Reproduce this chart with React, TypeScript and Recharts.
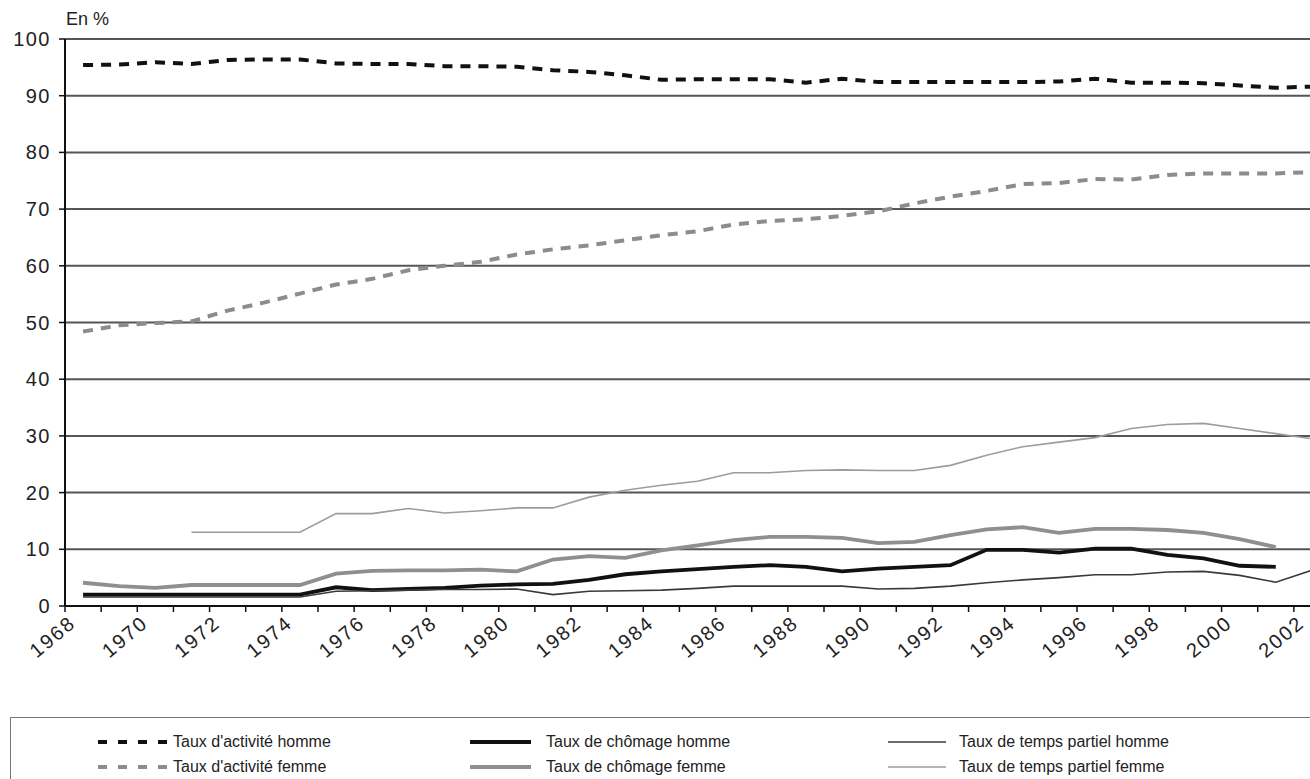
import { LineChart, Line, XAxis, YAxis, CartesianGrid } from "recharts";

const years = [
  1968, 1969, 1970, 1971, 1972, 1973, 1974, 1975, 1976, 1977, 1978, 1979,
  1980, 1981, 1982, 1983, 1984, 1985, 1986, 1987, 1988, 1989, 1990, 1991,
  1992, 1993, 1994, 1995, 1996, 1997, 1998, 1999, 2000, 2001, 2002,
];

const activiteHomme = [
  95.4, 95.5, 95.9, 95.6, 96.3, 96.4, 96.4, 95.7, 95.6, 95.6, 95.2, 95.2,
  95.1, 94.5, 94.2, 93.6, 92.8, 92.9, 92.9, 92.9, 92.3, 93.0, 92.4, 92.4,
  92.4, 92.4, 92.4, 92.5, 93.0, 92.3, 92.3, 92.2, 91.8, 91.4, 91.6,
];
const activiteFemme = [
  48.4, 49.5, 49.9, 50.2, 52.1, 53.5, 55.1, 56.7, 57.7, 59.2, 60.0, 60.7,
  62.0, 62.9, 63.6, 64.5, 65.4, 66.1, 67.3, 67.9, 68.2, 68.8, 69.6, 71.0,
  72.2, 73.2, 74.4, 74.6, 75.3, 75.2, 76.0, 76.3, 76.3, 76.3, 76.5,
];
const chomageHomme = [
  2.0, 2.0, 2.0, 2.0, 2.0, 2.0, 2.0, 3.3, 2.8, 3.0, 3.2, 3.6,
  3.8, 3.9, 4.6, 5.6, 6.1, 6.5, 6.9, 7.2, 6.9, 6.1, 6.6, 6.9,
  7.2, 9.9, 9.9, 9.4, 10.1, 10.1, 9.0, 8.4, 7.1, 6.9, null,
];
const chomageFemme = [
  4.1, 3.5, 3.2, 3.7, 3.7, 3.7, 3.7, 5.7, 6.2, 6.3, 6.3, 6.4,
  6.1, 8.2, 8.8, 8.5, 9.8, 10.7, 11.6, 12.2, 12.2, 12.0, 11.1, 11.3,
  12.5, 13.5, 13.9, 12.9, 13.6, 13.6, 13.4, 12.9, 11.8, 10.4, null,
];
const partielHomme = [
  1.6, 1.6, 1.6, 1.6, 1.6, 1.6, 1.6, 2.6, 2.7, 2.8, 2.9, 2.9,
  3.0, 2.0, 2.6, 2.7, 2.8, 3.1, 3.5, 3.5, 3.5, 3.5, 3.0, 3.1,
  3.5, 4.1, 4.6, 5.0, 5.5, 5.5, 6.0, 6.1, 5.4, 4.2, 6.3,
];
const partielFemme = [
  null, null, null, 13.0, 13.0, 13.0, 13.0, 16.3, 16.3, 17.2, 16.4, 16.8,
  17.3, 17.3, 19.2, 20.4, 21.3, 22.0, 23.5, 23.5, 23.9, 24.0, 23.9, 23.9,
  24.8, 26.6, 28.1, 28.9, 29.7, 31.3, 32.0, 32.2, 31.3, 30.4, 29.5,
];

const yTicks = [0, 10, 20, 30, 40, 50, 60, 70, 80, 90, 100];
// tick marks sit between years (Excel "between tick marks" category axis)
const boundaryTicks = [...years.map((y) => y - 0.5), 2002.5];

const data = years.map((year, i) => ({
  year,
  activiteHomme: activiteHomme[i],
  activiteFemme: activiteFemme[i],
  chomageHomme: chomageHomme[i],
  chomageFemme: chomageFemme[i],
  partielHomme: partielHomme[i],
  partielFemme: partielFemme[i],
}));

const series = [
  { key: "activiteHomme", name: "Taux d'activité homme", color: "#111", width: 4, dash: "10 8" },
  { key: "activiteFemme", name: "Taux d'activité femme", color: "#8c8c8c", width: 4, dash: "10 8" },
  { key: "chomageHomme", name: "Taux de chômage homme", color: "#111", width: 3.8, dash: undefined },
  { key: "chomageFemme", name: "Taux de chômage femme", color: "#8f8f8f", width: 3.8, dash: undefined },
  { key: "partielHomme", name: "Taux de temps partiel homme", color: "#3a3a3a", width: 1.6, dash: undefined },
  { key: "partielFemme", name: "Taux de temps partiel femme", color: "#9c9c9c", width: 1.6, dash: undefined },
];

const font = "'Liberation Sans', Arial, sans-serif";

const CHART_W = 1340;
const MARGIN_R = 10;
const Y_W = 65;
const TICK = 6;
const HALF_STEP = (CHART_W - MARGIN_R - Y_W) / years.length / 2;

function YearTick({ x, y, payload }: any) {
  const axisY = y - TICK;
  const year = payload.value + 0.5;
  const showLabel = year % 2 === 0 && year <= 2002;
  const ax = x + HALF_STEP - 6;
  const ay = y + 13;
  return (
    <g>
      <line x1={x} y1={axisY} x2={x} y2={axisY + TICK} stroke="#111" strokeWidth={1.5} />
      {showLabel && (
        <text
          x={ax}
          y={ay}
          transform={`rotate(-40 ${ax} ${ay})`}
          textAnchor="end"
          fontSize={20}
          letterSpacing={2}
          fill="#222"
          fontFamily={font}
        >
          {year}
        </text>
      )}
    </g>
  );
}

function ValueTick({ x, y, payload }: any) {
  const axisX = x + 8 + TICK;
  return (
    <g>
      <line x1={axisX - TICK} y1={y} x2={axisX} y2={y} stroke="#111" strokeWidth={1.5} />
      <text
        x={x}
        y={y}
        dy={7}
        textAnchor="end"
        fontSize={20}
        letterSpacing={1.5}
        fill="#222"
        fontFamily={font}
      >
        {payload.value}
      </text>
    </g>
  );
}

// legend: columns (symbol start, symbol end, text start), row centres
const legendCols = [
  [87, 158, 162],
  [459, 520, 535],
  [877, 935, 948],
];
const legendRows = [24, 49];

function LegendBox() {
  return (
    <div
      style={{
        position: "absolute",
        left: 10,
        top: 717,
        width: 1340,
        height: 80,
        border: "1.5px solid #777",
        boxSizing: "border-box",
        fontFamily: font,
        fontSize: 16,
        color: "#222",
      }}
    >
      {series.map((s, i) => {
        const col = legendCols[Math.floor(i / 2)];
        const rowY = legendRows[i % 2];
        return (
          <div key={s.key}>
            <svg
              style={{ position: "absolute", left: col[0], top: rowY - 5 }}
              width={col[1] - col[0]}
              height={10}
            >
              <line
                x1={0}
                y1={5}
                x2={col[1] - col[0]}
                y2={5}
                stroke={s.color}
                strokeWidth={s.dash ? 4 : s.width}
                strokeDasharray={s.dash ? "9 11" : undefined}
              />
            </svg>
            <span
              style={{
                position: "absolute",
                left: col[2],
                top: rowY - 10,
                lineHeight: "20px",
                whiteSpace: "nowrap",
              }}
            >
              {s.name}
            </span>
          </div>
        );
      })}
    </div>
  );
}

export default function App() {
  return (
    <div
      style={{
        position: "absolute",
        left: 0,
        top: 0,
        width: 1310,
        height: 779,
        overflow: "hidden",
        background: "#fff",
      }}
    >
      <div
        style={{
          position: "absolute",
          left: 66,
          top: 9,
          fontFamily: font,
          fontSize: 18,
          color: "#222",
        }}
      >
        En %
      </div>
      <LineChart
        width={CHART_W}
        height={700}
        data={data}
        margin={{ top: 39, right: MARGIN_R, bottom: 0, left: 0 }}
      >
        <CartesianGrid
          horizontal
          vertical={false}
          stroke="#555"
          strokeWidth={2}
        />
        <XAxis
          dataKey="year"
          type="number"
          domain={[1967.5, 2002.5]}
          ticks={boundaryTicks}
          interval={0}
          height={94}
          tickSize={TICK}
          tickMargin={0}
          axisLine={{ stroke: "#111", strokeWidth: 2 }}
          tickLine={false}
          tick={<YearTick />}
        />
        <YAxis
          type="number"
          domain={[0, 100]}
          ticks={yTicks}
          interval={0}
          width={Y_W}
          tickSize={TICK}
          tickMargin={8}
          axisLine={{ stroke: "#111", strokeWidth: 2 }}
          tickLine={false}
          tick={<ValueTick />}
        />
        {series.map((s) => (
          <Line
            key={s.key}
            type="linear"
            dataKey={s.key}
            stroke={s.color}
            strokeWidth={s.width}
            strokeDasharray={s.dash}
            dot={false}
            activeDot={false}
            connectNulls={false}
            isAnimationActive={false}
          />
        ))}
      </LineChart>
      <LegendBox />
    </div>
  );
}
